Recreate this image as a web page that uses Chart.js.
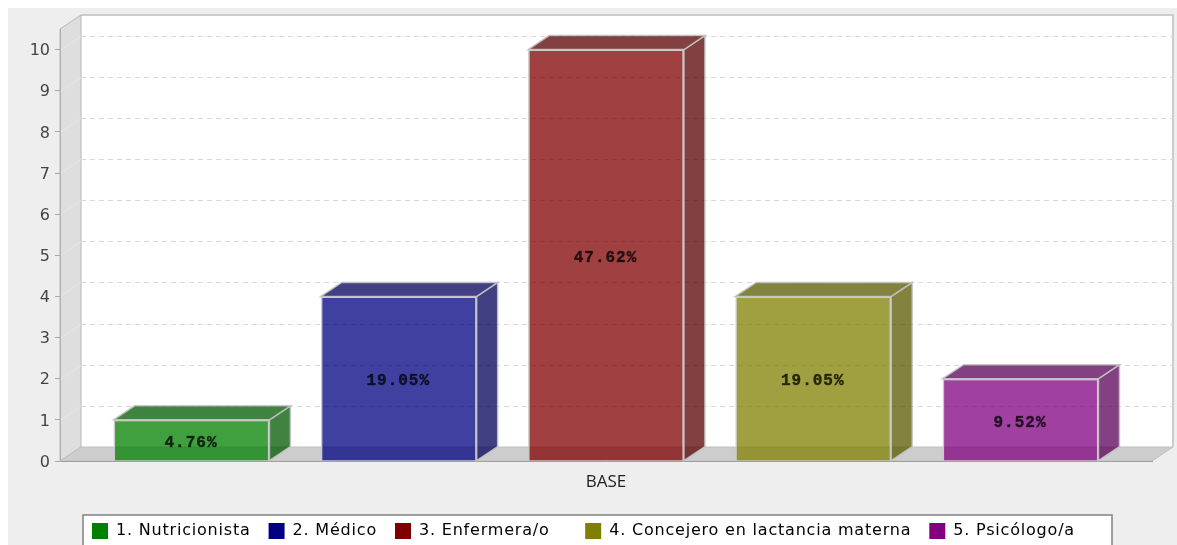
<!DOCTYPE html>
<html><head><meta charset="utf-8">
<style>html,body{margin:0;padding:0;background:#fff;overflow:hidden}canvas{display:block;filter:blur(0.6px)}</style>
<script src="https://cdn.jsdelivr.net/npm/chart.js@4"></script>
</head><body><canvas id="c" width="1177" height="545"></canvas>
<script>
const categories = ["BASE"];
const seriesNames = ["1. Nutricionista", "2. Médico", "3. Enfermera/o", "4. Concejero en lactancia materna", "5. Psicólogo/a"];
const seriesValues = [1, 4, 10, 4, 2];
const percentLabels = ["4.76%", "19.05%", "47.62%", "19.05%", "9.52%"];
const seriesRGB = ["0,128,0", "0,0,128", "128,0,0", "128,128,0", "128,0,128"];
const sideRGB = ["0,90,0", "0,0,90", "90,0,0", "90,90,0", "90,0,90"];
const yTicks = [0,1,2,3,4,5,6,7,8,9,10];

const DX = 21, DY = 14;
function poly(ctx, pts, fill, stroke, lw){
  ctx.beginPath();
  pts.forEach((p,i)=> i?ctx.lineTo(p[0],p[1]):ctx.moveTo(p[0],p[1]));
  ctx.closePath();
  if(fill){ctx.fillStyle=fill;ctx.fill();}
  if(stroke){ctx.strokeStyle=stroke;ctx.lineWidth=lw||1;ctx.stroke();}
}
const scene = {
  id:'scene',
  afterInit(chart){
    const lg=chart.legend, ctx=chart.ctx;
    ['fit','draw'].forEach(m=>{
      const orig=lg[m];
      lg[m]=function(...args){
        ctx.letterSpacing='0.8px';
        const r=orig.apply(this,args);
        ctx.letterSpacing='0px';
        return r;
      };
    });
  },
  afterLayout(chart){
    const lg = chart.legend, p = lg.options.labels.padding;
    lg.left = 92 - p; lg.top = 523 - p;
    const y = chart.scales.y, ctx = chart.ctx;
    if(!y._shifted){
      const orig = y.drawLabels;
      y.drawLabels = function(...args){
        ctx.save();ctx.translate(0,1.5);
        orig.apply(this,args);
        ctx.restore();
      };
      y._shifted = true;
    }
  },
  beforeDraw(chart){
    const {ctx, chartArea:a, scales:{y}} = chart;
    ctx.save();
    ctx.fillStyle='#fff';ctx.fillRect(0,0,chart.width,chart.height);
    ctx.fillStyle='#eeeeee';ctx.fillRect(8,8,chart.width-8,chart.height-8);
    // legend frame
    ctx.fillStyle='#fff';ctx.fillRect(83,515,1029,40);
    ctx.strokeStyle='#808080';ctx.lineWidth=1.5;ctx.strokeRect(83,515,1029,40);
    // back wall
    const bl=a.left+DX, br=a.right+DX, bt=a.top-DY, bb=a.bottom-DY;
    ctx.fillStyle='#fff';ctx.fillRect(bl,bt,br-bl,bb-bt);
    ctx.strokeStyle='#cccccc';ctx.lineWidth=2;
    ctx.beginPath();ctx.moveTo(bl,bt);ctx.lineTo(br,bt);ctx.lineTo(br,bb);ctx.stroke();
    // left wall, floor
    poly(ctx,[[a.left,a.top],[bl,bt],[bl,bb],[a.left,a.bottom]],'#dedede','#b8b8b8',1);
    poly(ctx,[[a.left,a.bottom],[bl,bb],[br,bb],[a.right,a.bottom]],'#cdcdcd','#c0c0c0',1);
    // grid
    yTicks.forEach(v=>{
      if(v===0) return;
      const py=Math.round(y.getPixelForValue(v))+0.5;
      ctx.strokeStyle='#e6e6e6';ctx.lineWidth=1;ctx.setLineDash([]);
      ctx.beginPath();ctx.moveTo(a.left,py);ctx.lineTo(bl,py-DY);ctx.stroke();
      ctx.strokeStyle='#d8d8d8';ctx.setLineDash([5,4]);
      ctx.beginPath();ctx.moveTo(bl,py-DY);ctx.lineTo(br,py-DY);ctx.stroke();
      ctx.setLineDash([]);
    });
    ctx.restore();
  },
  beforeDatasetsDraw(chart){
    const ctx=chart.ctx;
    ctx.save();
    chart.data.datasets.forEach((d,i)=>{
      const b=chart.getDatasetMeta(i).data[0];
      const l=b.x-b.width/2,r=b.x+b.width/2,t=b.y,base=b.base;
      const col='rgba('+sideRGB[i]+',0.75)';
      poly(ctx,[[r,t],[r+DX,t-DY],[r+DX,base-DY],[r,base]],col,'rgba(195,195,195,0.9)',1.5);
      poly(ctx,[[l,t],[l+DX,t-DY],[r+DX,t-DY],[r,t]],col,'rgba(195,195,195,0.9)',1.5);
    });
    ctx.restore();
  },
  afterDatasetsDraw(chart){
    const ctx=chart.ctx;
    ctx.save();
    ctx.font='bold 16px "Liberation Mono"';
    ctx.letterSpacing='1px';
    ctx.textAlign='center';ctx.textBaseline='middle';
    ctx.fillStyle='rgba(0,0,0,0.75)';
    ctx.strokeStyle='rgba(0,0,0,0.5)';ctx.lineWidth=0.6;
    percentLabels.forEach((s,i)=>{
      const b=chart.getDatasetMeta(i).data[0];
      const cy=(b.y+b.base)/2+3;
      ctx.fillText(s,b.x-0.5,cy);
      ctx.strokeText(s,b.x-0.5,cy);
    });
    ctx.restore();
  }
};
new Chart(document.getElementById('c'),{
  type:'bar',
  data:{labels:categories,datasets:seriesNames.map((n,i)=>({
    label:n,data:[seriesValues[i]],
    backgroundColor:'rgba('+seriesRGB[i]+',0.75)',
    borderColor:'rgba(200,200,200,0.95)',borderWidth:1.5,
    barPercentage:0.752,categoryPercentage:0.949
  }))},
  options:{
    responsive:false,animation:false,
    layout:{padding:{left:8,right:25,top:29,bottom:0}},
    plugins:{
      tooltip:{enabled:false},
      title:{display:false},
      legend:{
        display:true,position:'bottom',align:'start',
        labels:{
          boxWidth:16,boxHeight:16,padding:18,color:'#3c3c3c',
          font:{family:'"DejaVu Sans"',size:16,lineHeight:1},
          generateLabels(chart){
            return seriesNames.map((n,i)=>({
              text:i===2?n+'   ':n,
              fillStyle:'rgb('+seriesRGB[i]+')',strokeStyle:'rgb('+seriesRGB[i]+')',lineWidth:0,
              hidden:false,datasetIndex:i
            }));
          }
        }
      }
    },
    scales:{
      x:{
        grid:{display:false},
        border:{display:true,color:'#a0a0a0',width:1},
        ticks:{color:'#222',padding:3,font:{family:'"Open Sans"',size:17}},
        afterFit(s){s.height=40;}
      },
      y:{
        min:0,max:10.5,
        afterBuildTicks(s){s.ticks=yTicks.map(v=>({value:v}));},
        grid:{display:true,drawOnChartArea:false,drawTicks:true,tickLength:5,color:'#a8a8a8'},
        border:{display:true,color:'#b0b0b0',width:1},
        ticks:{color:'#444',padding:5,font:{family:'"DejaVu Sans"',size:16}},
        afterFit(s){s.width=52;}
      }
    }
  },
  plugins:[scene]
});
</script></body></html>
